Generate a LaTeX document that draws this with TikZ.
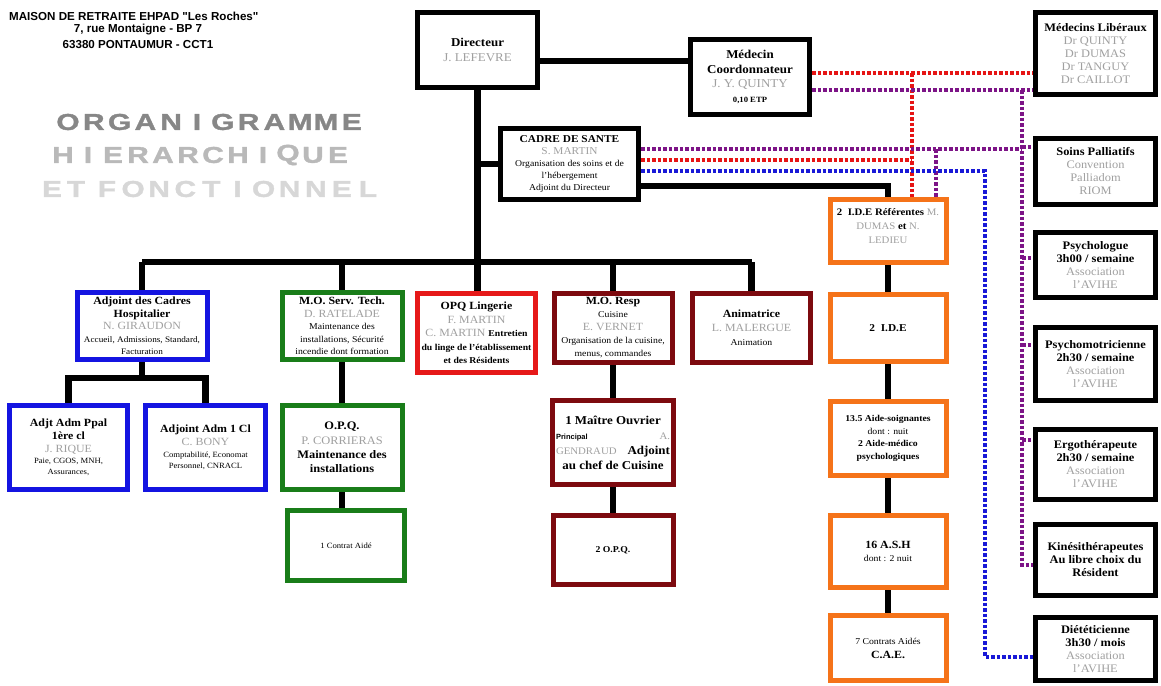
\documentclass[tikz,border=0pt]{standalone}
\usepackage{fontspec}
\setmainfont{Liberation Serif}[FakeStretch=1.08]
\newfontfamily\arialf{Liberation Sans}
\newfontfamily\titlef{Liberation Sans}[FakeStretch=1.3,FakeBold=1.5]
\usetikzlibrary{calc}
\pgfdeclarelayer{bg}
\pgfsetlayers{bg,main}
\definecolor{nmgray}{RGB}{160,160,160}
\definecolor{cblue}{RGB}{20,20,225}
\definecolor{cgreen}{RGB}{25,125,25}
\definecolor{cred}{RGB}{230,25,25}
\definecolor{cmaroon}{RGB}{125,10,15}
\definecolor{corange}{RGB}{245,115,25}
\definecolor{dred}{RGB}{230,20,20}
\definecolor{dpurple}{RGB}{125,20,135}
\definecolor{dblue}{RGB}{25,25,215}
\definecolor{tA}{RGB}{135,135,135}
\definecolor{tB}{RGB}{185,185,185}
\definecolor{tC}{RGB}{215,215,215}
\newcommand\hdx[1]{{\bfseries #1}}
\newcommand\nmx[1]{{\color{nmgray}#1}}
\newcommand\smx[1]{{\fontsize{9}{11}\selectfont #1}}
\newcommand\smbx[1]{{\fontsize{9}{11}\selectfont\bfseries #1}}
\newcommand\tinyx[1]{{\fontsize{8}{10}\selectfont #1}}
\begin{document}
\begin{tikzpicture}[x=1pt,y=-1pt,
  box/.style={draw, line width=5pt, fill=white, inner sep=0pt, align=center, font=\fontsize{11.5}{13}\selectfont},
  bk/.style={box, draw=black},
  bbl/.style={box, draw=cblue},
  bgr/.style={box, draw=cgreen},
  brd/.style={box, draw=cred},
  bmr/.style={box, draw=cmaroon},
  bor/.style={box, draw=corange},
  conn/.style={line width=6.5pt, draw=black, line join=miter},
  dotr/.style={line width=4.2pt, draw=dred, dash pattern=on 3.5pt off 2pt},
  dotp/.style={line width=4.2pt, draw=dpurple, dash pattern=on 3.5pt off 2pt},
  dotb/.style={line width=4.2pt, draw=dblue, dash pattern=on 3.5pt off 2pt},
  hdr/.style={inner sep=0pt, font=\arialf\bfseries\fontsize{11.6}{13}\selectfont},
  tl1/.style={inner sep=0pt, text=tA, font=\titlef\bfseries\fontsize{23}{23}\selectfont},
  tl2/.style={inner sep=0pt, text=tB, font=\titlef\bfseries\fontsize{23}{23}\selectfont},
  tl3/.style={inner sep=0pt, text=tC, font=\titlef\bfseries\fontsize{23}{23}\selectfont},
  txt/.style={inner sep=0pt, align=center}
]
\path[use as bounding box] (0,0) rectangle (1161,685);

% header
\node[hdr, anchor=west] (h1) at (9,16) {MAISON DE RETRAITE EHPAD "Les Roches"};
\node[hdr] (h2) at (138,30) {7, rue Montaigne - BP 7};
\node[hdr] (h3) at (138,45) {63380 PONTAUMUR - CCT1};

% title
\foreach \c [count=\i] in {O,R,G,A,N,I,G,R,A,M,M,E}
  \node[tl1] (ta\i) at ({68+(\i-1)*25.8},122) {\c};
\foreach \c [count=\i] in {H,I,E,R,A,R,C,H,I,Q,U,E}
  \node[tl2] (tb\i) at ({63+(\i-1)*25},155) {\c};
\foreach \c/\p [count=\i] in {E/52,T/76,F/107,O/133.1,N/159.2,C/185.3,T/211.4,I/237.5,O/263.6,N/289.7,N/315.8,E/341.9,L/368}
  \node[tl3] (tc\i) at (\p,189) {\c};

% top boxes
\node[bk, minimum width=120pt, minimum height=75pt, font=\fontsize{12}{15}\selectfont] (dir) at (477.5,50) {\hdx{Directeur}\\\nmx{J. LEFEVRE}};
\node[bk, minimum width=119pt, minimum height=75pt, font=\fontsize{12}{14.5}\selectfont] (med) at (750,77) {\hdx{Médecin}\\\hdx{Coordonnateur}\\\nmx{J. Y. QUINTY}\\\tinyx{\bfseries 0,10 ETP}};
\node[bk, minimum width=138pt, minimum height=71pt, font=\fontsize{10.5}{11.8}\selectfont] (cadre) at (569.5,164) {\hdx{CADRE DE SANTE}\\\nmx{S. MARTIN}\\\smx{Organisation des soins et de}\\\smx{l'hébergement}\\\smx{Adjoint du Directeur}};

% right column
\node[bk, minimum width=120pt, minimum height=82pt] (medlib) at (1095.5,53.5) {\hdx{Médecins Libéraux}\\\nmx{Dr QUINTY}\\\nmx{Dr DUMAS}\\\nmx{Dr TANGUY}\\\nmx{Dr CAILLOT}};
\node[bk, minimum width=120pt, minimum height=66pt] (soins) at (1095.5,171.5) {\hdx{Soins Palliatifs}\\\nmx{Convention}\\\nmx{Palliadom}\\\nmx{RIOM}};
\node[bk, minimum width=120pt, minimum height=65pt] (psycho) at (1095.5,265) {\hdx{Psychologue}\\\hdx{3h00 / semaine}\\\nmx{Association}\\\nmx{l'AVIHE}};
\node[bk, minimum width=120pt, minimum height=73pt] (psychomot) at (1095.5,364) {\hdx{Psychomotricienne}\\\hdx{2h30 / semaine}\\\nmx{Association}\\\nmx{l'AVIHE}};
\node[bk, minimum width=120pt, minimum height=70pt] (ergo) at (1095.5,464.5) {\hdx{Ergothérapeute}\\\hdx{2h30 / semaine}\\\nmx{Association}\\\nmx{l'AVIHE}};
\node[bk, minimum width=120pt, minimum height=71pt] (kine) at (1095.5,560) {\hdx{Kinésithérapeutes}\\\hdx{Au libre choix du}\\\hdx{Résident}};
\node[bk, minimum width=120pt, minimum height=63pt] (diet) at (1095.5,649) {\hdx{Diététicienne}\\\hdx{3h30 / mois}\\\nmx{Association}\\\nmx{l'AVIHE}};

% orange column
\node[bor, minimum width=116pt, minimum height=63pt] (ideref) at (888,231) {};
\node[txt, font=\fontsize{10}{14}\selectfont] (idereft) at (888,226) {\hdx{2\ \ I.D.E Référentes} \nmx{M.}\\\nmx{DUMAS} \hdx{et} \nmx{N.}\\\nmx{LEDIEU}};
\node[bor, minimum width=116pt, minimum height=67pt, font=\fontsize{10.5}{13}\selectfont] (ide) at (888,328) {\hdx{2\ \ I.D.E}};
\node[bor, minimum width=116pt, minimum height=74pt, font=\fontsize{9.5}{12.5}\selectfont] (aides) at (888,438.5) {\smbx{13.5 Aide-soignantes}\\\smx{dont : nuit}\\\smbx{2 Aide-médico}\\\smbx{psychologiques}};
\node[bor, minimum width=116pt, minimum height=72pt, font=\fontsize{11}{13}\selectfont] (ash) at (888,551.5) {\hdx{16 A.S.H}\\\smx{dont : 2 nuit}};
\node[bor, minimum width=116pt, minimum height=65pt, font=\fontsize{11}{14}\selectfont] (cae) at (888,648) {\smx{7 Contrats Aidés}\\\hdx{C.A.E.}};

% tier 2
\node[bbl, minimum width=130pt, minimum height=67pt, font=\fontsize{11}{12.6}\selectfont] (adjc) at (142,326) {\hdx{Adjoint des Cadres}\\\hdx{Hospitalier}\\\nmx{N. GIRAUDON}\\{\fontsize{8.5}{10}\selectfont Accueil, Admissions, Standard,}\\{\fontsize{8.5}{10}\selectfont Facturation}};
\node[bgr, minimum width=120pt, minimum height=67pt, font=\fontsize{11}{12.6}\selectfont] (servt) at (342,326) {\hdx{M.O. Serv. Tech.}\\\nmx{D. RATELADE}\\\smx{Maintenance des}\\\smx{installations, Sécurité}\\\smx{incendie dont formation}};
\node[brd, minimum width=118pt, minimum height=79pt, font=\fontsize{11}{13.5}\selectfont] (ling) at (476.5,333) {\hdx{OPQ Lingerie}\\\nmx{F. MARTIN}\\\nmx{C. MARTIN} \smbx{Entretien}\\\smbx{du linge de l'établissement}\\\smbx{et des Résidents}};
\node[bmr, minimum width=118pt, minimum height=69pt, font=\fontsize{11}{13}\selectfont] (mores) at (613,328) {\hdx{M.O. Resp}\\\smx{Cuisine}\\\nmx{E. VERNET}\\\smx{Organisation de la cuisine,}\\\smx{menus, commandes}};
\node[bmr, minimum width=118pt, minimum height=69pt, font=\fontsize{11}{14}\selectfont] (anim) at (751.5,328) {\hdx{Animatrice}\\\nmx{L. MALERGUE}\\\smx{Animation}};

% tier 3
\node[bbl, minimum width=118pt, minimum height=84pt, font=\fontsize{11}{13}\selectfont] (ppal) at (68.5,447.5) {\hdx{Adjt Adm Ppal}\\\hdx{1ère cl}\\\nmx{J. RIQUE}\\[-2pt]\tinyx{Paie, CGOS, MNH,}\\[-2pt]\tinyx{Assurances,}};
\node[bbl, minimum width=120pt, minimum height=84pt, font=\fontsize{11}{13}\selectfont] (adm1) at (205.5,447.5) {\hdx{Adjoint Adm 1 Cl}\\\nmx{C. BONY}\\[-1pt]\tinyx{Comptabilité, Economat}\\[-2pt]\tinyx{Personnel, CNRACL}};
\node[bgr, minimum width=120pt, minimum height=84pt, font=\fontsize{11.5}{14.3}\selectfont] (opq) at (342,447.5) {\hdx{O.P.Q.}\\\nmx{P. CORRIERAS}\\\hdx{Maintenance des}\\\hdx{installations}};
\node[bgr, minimum width=117pt, minimum height=70pt] (contrat) at (346,545.5) {\tinyx{1 Contrat Aidé}};
\node[bmr, minimum width=121pt, minimum height=84pt, font=\fontsize{12}{15}\selectfont] (maitre) at (613,442.5) {\hdx{1 Maître Ouvrier}\\\makebox[114pt]{{\arialf\bfseries\fontsize{7.5}{9}\selectfont Principal}\hfill{\fontsize{10}{12}\selectfont\nmx{A.}}}\\\makebox[114pt]{{\fontsize{10}{12}\selectfont\nmx{GENDRAUD}}\hfill\hdx{Adjoint}}\\\hdx{au chef de Cuisine}};
\node[bmr, minimum width=120pt, minimum height=69pt] (opq2) at (613,550) {\smbx{2 O.P.Q.}};

% connectors
\coordinate (bus) at (0,262);
\coordinate (dm) at (0,61);
\coordinate (ci) at (0,186);
\coordinate (ab) at (0,378);
\coordinate (yr1) at (0,73);
\coordinate (yp1) at (0,90);
\coordinate (yp2) at (0,149);
\coordinate (yr2) at (0,160);
\coordinate (yb) at (0,171);
\coordinate (yb2) at (0,657);
\coordinate (xr) at (912,0);
\coordinate (xp2) at (936,0);
\coordinate (xp) at (1022,0);
\coordinate (xb) at (985,0);
\coordinate (ps1) at (1022,147);
\coordinate (ps2) at (1022,258);
\coordinate (ps3) at (1022,345);
\coordinate (ps4) at (1022,440);
\coordinate (ps5) at (1022,565);

\begin{pgfonlayer}{bg}
\draw[conn] (dir.south) -- (dir.south |- ling.north);
\draw[conn] (dir.east |- dm) -- (med.west |- dm);
\draw[conn] (cadre.west) -- (cadre.west -| dir.south);
\draw[conn] (cadre.east |- ci) -| (ideref.north);
\draw[conn] (adjc.north |- bus) -- (anim.north |- bus);
\foreach \n in {adjc,servt,mores,anim} \draw[conn] (\n.north |- bus) -- (\n.north);
\draw[conn] (ideref) -- (ide) -- (aides) -- (ash) -- (cae);
\draw[conn] (adjc.south) -- (adjc.south |- ab);
\draw[conn] (ppal.north) -- (ppal.north |- ab) -- (adm1.north |- ab) -- (adm1.north);
\draw[conn] (servt) -- (opq);
\draw[conn] (opq.south) -- (opq.south |- contrat.north);
\draw[conn] (mores) -- (maitre) -- (opq2);
% dotted links
\draw[dotr] (med.east |- yr1) -- (medlib.west |- yr1);
\draw[dotr] (xr |- yr1) -- (xr |- ideref.north);
\draw[dotr] (cadre.east |- yr2) -- (xr |- yr2);
\draw[dotp] (med.east |- yp1) -- (medlib.west |- yp1);
\draw[dotp] (xp |- yp1) -- (ps5) -- (ps5 -| kine.west);
\draw[dotp] (ps1) -- (ps1 -| soins.west);
\draw[dotp] (ps2) -- (ps2 -| psycho.west);
\draw[dotp] (ps3) -- (ps3 -| psychomot.west);
\draw[dotp] (ps4) -- (ps4 -| ergo.west);
\draw[dotp] (cadre.east |- yp2) -- (xp |- yp2);
\draw[dotp] (xp2 |- yp2) -- (xp2 |- ideref.north);
\draw[dotb] (cadre.east |- yb) -| (xb |- yb2) -- (diet.west |- yb2);
\end{pgfonlayer}
\end{tikzpicture}
\end{document}
